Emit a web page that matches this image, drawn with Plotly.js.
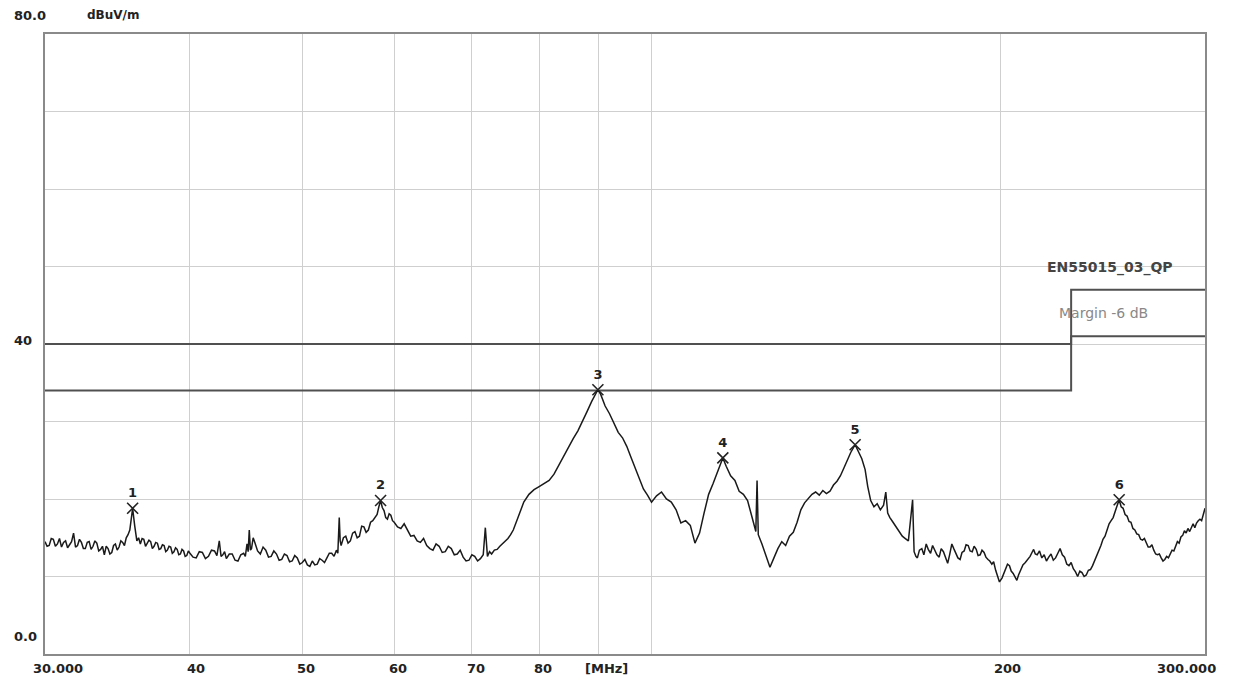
<!DOCTYPE html>
<html>
<head>
<meta charset="utf-8">
<script src="https://cdn.plot.ly/plotly-3.0.1.min.js"></script>
<style>html,body{margin:0;padding:0;background:#fff;}#chart{width:1236px;height:683px;}</style>
</head>
<body>
<div id="chart"></div>
<script>
// ---- measured trace (MHz, dBuV/m), in segments ----
const freqA = [
30.000,30.125,30.250,30.375,30.500,30.625,30.750,30.875,31.000,31.125,
31.250,31.375,31.500,31.625,31.750,31.875,32.000,32.125,32.250,32.375,
32.500,32.625,32.750,32.875,33.000,33.125,33.250,33.375,33.500,33.625,
33.750,33.875,34.000,34.125,34.250,34.375,34.500,34.625,34.750,34.875,
35.000,35.125,35.250,35.375,35.500,35.600,35.700,35.850,36.000,36.125,
36.250,36.375,36.500,36.625,36.750,36.875,37.000,37.125,37.250,37.375,
37.500,37.625,37.750,37.875,38.000,38.125,38.250,38.375,38.500,38.625,
38.750,38.875,39.000,39.125,39.250,39.375,39.500,39.625,39.750,39.875
];
const levelA = [
14.5,13.9,14.0,14.9,14.8,13.9,14.2,14.9,13.8,14.4,
14.6,13.7,14.1,14.5,15.6,13.8,14.0,14.8,14.4,13.6,
13.6,14.4,14.5,13.5,13.9,14.6,14.3,13.3,13.5,13.9,
12.8,13.9,13.6,12.9,13.1,14.0,14.2,13.4,13.8,14.6,
14.4,14.0,15.0,15.4,16.0,17.4,18.8,16.5,14.6,15.0,
14.2,14.9,14.8,13.9,14.3,14.7,14.5,13.6,13.9,14.4,
14.3,13.5,13.6,14.1,14.0,13.2,13.4,13.9,13.8,13.0,
13.2,13.7,13.5,12.8,12.9,13.5,13.3,12.6,12.7,13.3
];
const freqB = [
40.00,40.25,40.50,40.75,41.00,41.25,41.50,41.75,42.00,42.20,
42.40,42.55,42.70,42.85,43.00,43.25,43.50,43.75,44.00,44.25,
44.50,44.65,44.80,44.90,45.00,45.10,45.20,45.35,45.50,45.75,
46.00,46.25,46.50,46.75,47.00,47.25,47.50,47.75,48.00,48.25,
48.50,48.75,49.00,49.25,49.50,49.75,50.00,50.25,50.50,50.75,
51.00,51.25,51.50,51.75,52.00,52.25,52.50,52.75,53.00,53.25,
53.50,53.65,53.80,53.90,54.00,54.25,54.50,54.75,55.00,55.25,
55.50,55.75,56.00,56.25,56.50,56.75,57.00,57.25,57.50,57.75,
58.00,58.20,58.40,58.60,58.80,59.00,59.20,59.40,59.60,59.80
];
const levelB = [
13.0,12.5,12.4,13.2,13.1,12.3,12.6,13.4,13.3,12.7,
14.6,12.6,12.8,13.2,12.3,12.9,12.9,12.1,12.0,12.8,
13.0,12.6,14.2,13.2,16.0,13.4,13.6,15.0,14.4,13.3,
12.9,13.8,13.4,12.5,12.6,13.3,12.9,12.1,12.2,12.9,
12.7,11.9,12.0,12.7,12.4,11.6,11.8,12.2,11.5,11.3,
12.0,11.5,11.6,12.3,12.1,11.8,12.4,13.0,13.0,12.6,
13.4,13.0,17.6,14.6,14.0,15.0,15.2,14.3,14.6,15.6,
15.8,15.0,15.2,16.5,16.4,15.7,16.0,17.0,17.2,17.6,
18.0,19.0,19.8,18.9,18.5,17.6,17.4,18.1,17.9,17.2
];
const freqC = [
60.0,60.4,60.8,61.2,61.6,62.0,62.4,62.8,63.2,63.6,
64.0,64.4,64.8,65.2,65.6,66.0,66.4,66.8,67.2,67.6,
68.0,68.4,68.8,69.2,69.6,70.0,70.4,70.8,71.2,71.6,
71.9,72.2,72.5,72.8,73.2,73.6,74.0,74.4,74.8,75.2,
75.6,76.0,76.8,77.6,78.4,79.2,80.0,80.8,81.6,82.4,
83.2,84.0,84.8,85.6,86.4,87.2,88.0,88.8,89.4,89.9,
90.4,91.2,92.0,92.8,93.6,94.4,95.2,96.0,96.8,97.6,
98.4,99.2
];
const levelC = [
17.0,16.4,16.2,16.8,16.0,15.2,15.3,14.6,14.4,14.9,
14.0,13.6,13.4,14.2,13.9,13.1,13.2,13.9,13.6,12.8,
12.9,13.4,12.5,12.0,12.1,12.8,12.6,12.0,12.3,12.8,
16.3,12.6,13.2,12.9,13.4,13.5,13.9,14.2,14.5,14.9,
15.4,16.0,17.8,19.6,20.6,21.2,21.6,22.0,22.4,23.2,
24.4,25.4,26.6,27.8,28.8,30.0,31.3,32.6,33.4,34.1,
33.5,32.0,31.0,29.8,28.6,27.9,26.8,25.4,24.0,22.6,
21.3,20.5
];
const freqD = [
100.0,101.0,102.0,103.0,104.0,105.0,106.0,107.0,108.0,109.0,
110.0,111.0,112.0,113.0,114.0,115.2,116.0,117.0,118.0,119.0,
120.0,121.0,122.0,123.0,123.3,123.6,124.5,125.5,126.5,127.5,
128.5,129.5,130.5,131.5,132.5,133.5,134.5,135.5,136.5,137.5,
138.5,139.5,140.5,141.5,142.5,143.5,144.5,145.5,146.5,147.5,
148.5,149.8,150.8,151.8,152.8,153.6,154.5,155.5,156.5,157.5,
158.5,159.2,159.8,160.5,161.5,162.5,163.5,164.5,165.5,166.5,
167.9,168.4,169.0,169.5,170.2,171.0,171.7,172.5,173.2,174.0,
174.7,175.5,176.2,177.0,177.7,178.5,179.2,180.0,180.7,181.5,
182.2,183.0,183.7,184.5,185.2,186.0,186.7,187.5,188.2,189.0,
189.7,190.5,191.2,192.0,192.7,193.5,194.2,195.0,195.7,196.5,
197.2,198.0,198.7,199.5
];
const levelD = [
19.6,20.4,20.9,20.0,19.6,18.6,16.9,17.2,16.6,14.3,
15.6,18.2,20.6,22.0,23.4,25.3,24.2,23.0,22.4,21.0,
20.6,19.8,17.8,15.8,22.4,15.4,14.2,12.6,11.2,12.4,
13.6,14.5,14.0,15.2,15.7,17.0,18.6,19.5,20.0,20.6,
20.9,20.5,21.1,20.7,21.0,21.8,22.3,23.0,24.0,25.0,
26.0,27.0,26.1,25.2,23.8,21.6,19.8,19.0,19.4,18.6,
19.2,20.9,18.2,17.6,17.0,16.4,15.7,15.2,14.9,14.6,
19.9,13.2,12.6,12.4,13.4,13.6,12.8,14.2,13.5,13.0,
14.0,13.4,12.8,12.5,13.6,13.2,12.4,11.7,12.8,14.2,
13.6,13.0,12.4,12.2,13.1,13.3,14.1,14.0,13.3,13.2,
13.9,13.5,12.7,12.8,13.4,13.1,12.5,12.2,12.0,11.6,
11.9,10.8,10.2,9.3
];
const freqE = [
200.5,201.2,202.0,202.7,203.5,204.2,205.0,205.7,206.5,207.2,
208.0,209.0,210.0,211.0,212.0,212.8,213.5,214.2,215.0,216.0,
217.0,218.0,219.0,220.0,221.0,222.0,223.0,224.0,225.0,226.0,
227.0,228.0,229.0,230.0,231.0,232.0,233.0,234.0,235.0,236.0,
237.0,238.0,239.0,240.0,241.0,242.0,243.0,244.0,245.0,246.0,
247.0,248.0,249.0,250.0,251.0,252.0,253.0,254.0,255.0,256.0,
257.0,258.0,259.0,260.0,261.0,262.0,263.0,264.0,265.0,266.0,
267.0,268.0,269.0,270.0,271.0,272.0,273.0,274.0,275.0,276.0,
277.0,278.0,279.0,280.0,281.0,282.0,283.0,284.0,285.0,286.0,
287.0,288.0,289.0,290.0,291.0,292.0,293.0,294.0,295.0,296.0,
297.0,298.0,299.0,300.0
];
const levelE = [
9.8,10.4,10.9,11.6,11.4,10.7,10.4,9.9,9.5,10.2,
10.8,11.5,11.8,12.2,12.6,13.1,13.5,12.9,12.8,13.3,
12.4,12.8,12.0,12.5,12.9,12.1,12.4,13.0,13.6,12.8,
12.5,11.6,11.4,11.8,11.0,10.6,10.0,10.7,10.5,10.0,
10.2,10.8,10.9,11.4,12.0,12.6,13.4,14.0,14.8,15.2,
16.0,16.8,17.2,17.6,18.4,19.2,19.9,19.0,18.8,18.0,
17.8,17.1,17.0,16.2,16.0,15.5,15.4,14.8,14.7,14.9,
14.4,13.8,13.8,14.1,13.4,12.9,12.8,12.9,12.4,12.0,
12.2,12.6,12.4,12.9,13.4,13.3,13.9,14.5,14.3,15.1,
15.3,15.9,15.6,16.2,15.8,16.4,16.8,16.3,16.9,17.2,
17.4,17.2,18.0,18.8
];
const freq = [].concat(freqA, freqB, freqC, freqD, freqE);
const level = [].concat(levelA, levelB, levelC, levelD, levelE);

// ---- limit and margin lines ----
const limitFreq = [30, 230, 230, 300];
const limitLevel = [40, 40, 47, 47];
const marginLevel = [34, 34, 41, 41];

// ---- peak markers ----
const peakFreq = [35.7, 58.4, 89.9, 115.2, 149.8, 253.0];
const peakLevel = [18.8, 19.8, 34.1, 25.3, 27.0, 19.9];
const peakLabel = ['1', '2', '3', '4', '5', '6'];

// ---- axis ticks ----
const xGridVals = [40, 50, 60, 70, 80, 90, 100, 200];
const xLabelVals = [30, 40, 50, 60, 70, 80, 90, 200, 300];
const xLabelText = ['30.000', '40', '50', '60', '70', '80', '[MHz]', '200', '300.000'];
const xLabelShift = [13, 6, 4, 4, 4, 4, 8, 7, -19];
const yLabelVals = [80, 40, 0];
const yLabelText = ['80.0', '40', '0.0'];
const yLabelShift = [19, 4, 18];

const FONT = 'DejaVu Sans, Liberation Sans, Arial, sans-serif';

const traces = [
  {x: limitFreq, y: limitLevel, type: 'scatter', mode: 'lines',
   line: {color: '#505050', width: 2}, hoverinfo: 'skip'},
  {x: limitFreq, y: marginLevel, type: 'scatter', mode: 'lines',
   line: {color: '#505050', width: 2}, hoverinfo: 'skip'},
  {x: freq, y: level, type: 'scatter', mode: 'lines',
   line: {color: '#1a1a1a', width: 1.5}},
  {x: peakFreq, y: peakLevel, type: 'scatter', mode: 'markers+text',
   text: peakLabel, textposition: 'top center',
   textfont: {family: FONT, size: 13, color: '#222', weight: 'bold'},
   marker: {symbol: 'x-thin-open', size: 11, color: '#222', line: {width: 1.6, color: '#222'}}}
];

const annotations = yLabelVals.map((v, i) => ({
  x: 0, xref: 'paper', xanchor: 'left', xshift: -33,
  y: v, yref: 'y', yanchor: 'middle', yshift: yLabelShift[i],
  text: yLabelText[i], showarrow: false,
  font: {family: FONT, size: 13, color: '#222', weight: 'bold'}
}));
xLabelVals.forEach((v, i) => annotations.push({
  x: Math.log10(v), xref: 'x', xanchor: 'center', xshift: xLabelShift[i],
  y: 0, yref: 'paper', yanchor: 'top', yshift: -5,
  text: xLabelText[i], showarrow: false,
  font: {family: FONT, size: 13, color: '#222', weight: 'bold'}
}));
annotations.push({
  x: 0, xref: 'paper', xanchor: 'left', xshift: 40,
  y: 80, yref: 'y', yanchor: 'middle', yshift: 19,
  text: 'dBuV/m', showarrow: false,
  font: {family: FONT, size: 12, color: '#222', weight: 'bold'}
});
annotations.push({
  x: Math.log10(limitFreq[3]), xref: 'x', xanchor: 'right', xshift: -30,
  y: limitLevel[3], yref: 'y', yanchor: 'bottom', yshift: 12,
  text: 'EN55015_03_QP', showarrow: false,
  font: {family: FONT, size: 14, color: '#444', weight: 'bold'}
});
annotations.push({
  x: Math.log10(limitFreq[3]), xref: 'x', xanchor: 'right', xshift: -55,
  y: marginLevel[3], yref: 'y', yanchor: 'bottom', yshift: 13,
  text: 'Margin -6 dB', showarrow: false,
  font: {family: FONT, size: 14, color: '#888'}
});

const layout = {
  width: 1236, height: 683,
  margin: {l: 45, r: 31, t: 34, b: 29},
  paper_bgcolor: '#ffffff', plot_bgcolor: '#ffffff',
  showlegend: false,
  xaxis: {
    type: 'log', range: [Math.log10(30), Math.log10(300)],
    tickmode: 'array', tickvals: xGridVals, showticklabels: false,
    ticks: '', showgrid: true, gridcolor: '#cfcfcf', gridwidth: 1,
    showline: true, linecolor: '#8a8a8a', linewidth: 2, mirror: true,
    zeroline: false
  },
  yaxis: {
    range: [0, 80], dtick: 10, showticklabels: false, ticks: '',
    showgrid: true, gridcolor: '#cfcfcf', gridwidth: 1,
    showline: true, linecolor: '#8a8a8a', linewidth: 2, mirror: true,
    zeroline: false
  },
  annotations: annotations
};

Plotly.newPlot('chart', traces, layout, {staticPlot: true, displayModeBar: false});
</script>
</body>
</html>
